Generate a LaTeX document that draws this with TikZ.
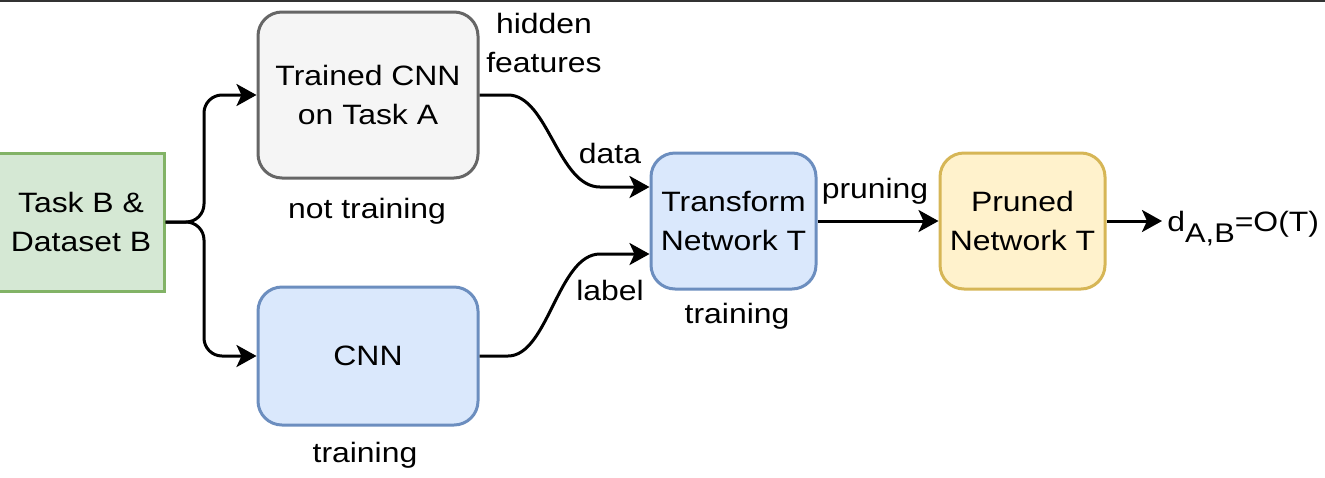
\documentclass[tikz,border=0pt]{standalone}
\usepackage{fontspec}
\setmainfont{Liberation Sans}[FakeStretch=1.14]
\usetikzlibrary{arrows.meta}
\definecolor{gfill}{HTML}{D5E8D4}\definecolor{gline}{HTML}{82B366}
\definecolor{kfill}{HTML}{F5F5F5}\definecolor{kline}{HTML}{666666}
\definecolor{bfill}{HTML}{DAE8FC}\definecolor{bline}{HTML}{6C8EBF}
\definecolor{yfill}{HTML}{FFF2CC}\definecolor{yline}{HTML}{D6B656}
\definecolor{topline}{HTML}{333333}
\tikzset{
  box/.style={draw, line width=1.5pt, align=center, inner sep=0pt,
    font=\fontsize{14}{19.5}\selectfont},
  rbox/.style={box, rounded corners=12pt},
  lbl/.style={inner sep=0pt, anchor=base, font=\fontsize{14}{19.5}\selectfont},
  arr/.style={line width=1.5pt, -{Stealth[length=10pt,width=11pt,inset=2.5pt]}}
}
\begin{document}
\begin{tikzpicture}[x=0.5pt,y=-0.5pt]
\useasboundingbox (0,0) rectangle (1325,477);
\draw[topline, line width=1pt] (0,1) -- (1325,1);
% boxes
\node[box, fill=gfill, draw=gline, minimum width=83pt, minimum height=69pt] (tb) at (81,222) {Task B \&\\Dataset B};
\node[rbox, fill=kfill, draw=kline, minimum width=110pt, minimum height=83pt] (tr) at (368,95) {Trained CNN\\on Task A};
\node[rbox, fill=bfill, draw=bline, minimum width=110pt, minimum height=69pt] (cnn) at (368,356) {CNN};
\node[rbox, fill=bfill, draw=bline, minimum width=82.5pt, minimum height=68pt] (tf) at (733.5,221) {Transform\\Network T};
\node[rbox, fill=yfill, draw=yline, minimum width=82.5pt, minimum height=68pt] (pr) at (1022.5,221) {Pruned\\Network T};
\node[lbl, anchor=base west, inner xsep=2.5pt] (out) at (1162,231) {d\raisebox{-5.5pt}{\fontsize{13.5}{15}\selectfont A,B}=O(T)};
% labels
\node[lbl] (hid1) at (544,33) {hidden};
\node[lbl] (hid2) at (544,72) {features};
\node[lbl] (nt) at (367,218) {not training};
\node[lbl] (trc) at (365,462) {training};
\node[lbl] (trt) at (737,323) {training};
\node[lbl] (dat) at (610,163) {data};
\node[lbl] (lab) at (610,300) {label};
\node[lbl] (prn) at (875,198) {pruning};
% connectors
\draw[arr, rounded corners=9pt] (tb.east) -- (204,222) -- (204,95) -- (tr.west);
\draw[arr, rounded corners=9pt] (tb.east) -- (204,222) -- (204,356) -- (cnn.west);
\draw[arr] (tr.east) -- (508,95) .. controls (548,95) and (558,187) .. (600,187) -- ([yshift=17pt]tf.west);
\draw[arr] (cnn.east) -- (508,356) .. controls (548,356) and (558,254) .. (600,254) -- ([yshift=-16.5pt]tf.west);
\draw[arr] (tf.east) -- (pr.west);
\draw[arr] (pr.east) -- (pr.east -| out.west);
\end{tikzpicture}
\end{document}
